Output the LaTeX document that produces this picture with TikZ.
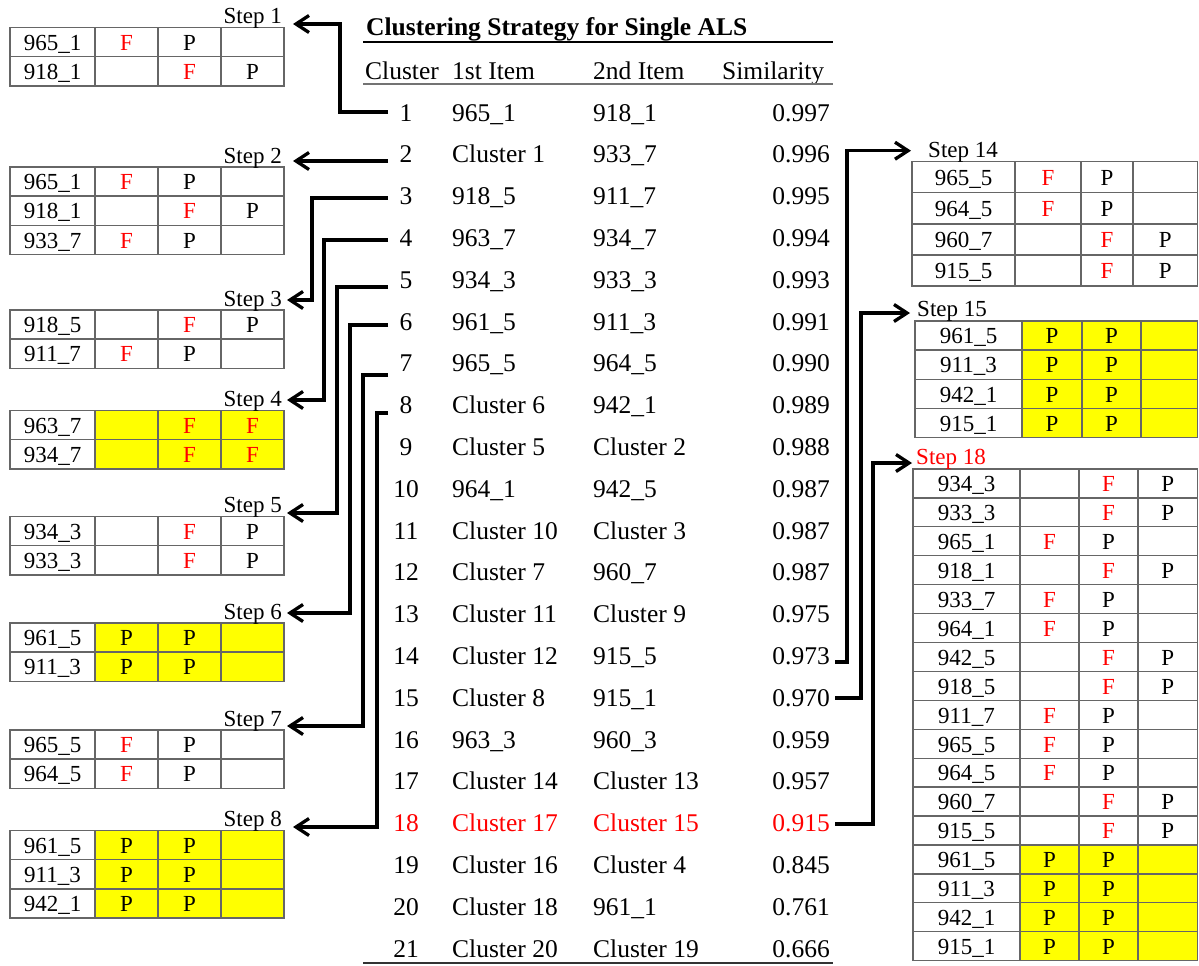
\documentclass[tikz,border=0pt]{standalone}
\usepackage{fontspec}
\setmainfont{Liberation Serif}
\usetikzlibrary{arrows.meta}
\definecolor{yel}{HTML}{FFFF00}
\definecolor{gridc}{HTML}{808080}
\newcommand\RF{\textcolor{red}{F}}
\tikzset{
  gridl/.style={draw=gridc!80!black, line width=1.3pt},
  tc/.style={font=\fontsize{23}{23}\selectfont, anchor=base, inner sep=0pt},
  steplab/.style={font=\fontsize{23}{23}\selectfont, inner sep=0pt},
  mt/.style={font=\fontsize{25.5}{26}\selectfont, inner sep=0pt},
  conn/.style={line width=3.3pt, line join=miter, -{Straight Barb[length=13pt,width=17pt]}},
}
% #1 name, #2..#6 column x, #7 top y, #8 row height, #9 rows
\newcommand\drawtable[9]{%
  \foreach \na/\ca/\cb/\cc/\yl [count=\i from 0] in {#9} {%
    \pgfmathsetmacro\ya{#7+\i*#8}%
    \pgfmathsetmacro\yb{#7+(\i+1)*#8}%
    \pgfmathsetmacro\ym{#7+(\i+0.5)*#8+8.3}%
    \ifnum\yl=1 \fill[yel] (#3,\ya) rectangle (#6,\yb);\fi
    \draw[gridl] (#2,\ya) rectangle (#3,\yb) (#3,\ya) rectangle (#4,\yb)
                 (#4,\ya) rectangle (#5,\yb) (#5,\ya) rectangle (#6,\yb);
    \node[tc] (#1-\i-a) at ({(#2+#3)/2},\ym) {\na};
    \node[tc] (#1-\i-b) at ({(#3+#4)/2},\ym) {\ca};
    \node[tc] (#1-\i-c) at ({(#4+#5)/2},\ym) {\cb};
    \node[tc] (#1-\i-d) at ({(#5+#6)/2},\ym) {\cc};
  }%
}
\begin{document}
\begin{tikzpicture}[x=1pt,y=-1pt]
\useasboundingbox (0,0) rectangle (1199,966);
\fill[white] (0,0) rectangle (1199,966);

% ---------- central table ----------
\node[mt, font=\fontsize{25.5}{26}\selectfont\bfseries, anchor=base west] (title) at (366,36) {Clustering Strategy for Single ALS};
\draw[line width=1.8pt] (363,42) -- (833,42);
\node[mt, anchor=base west] (hc) at (365,79) {Cluster};
\node[mt, anchor=base west] (h1) at (452,79) {1st Item};
\node[mt, anchor=base west] (h2) at (593,79) {2nd Item};
\node[mt, anchor=base west] (hs) at (722,79) {Similarity};
\draw[line width=1.6pt, black!55] (363,84) -- (833,84);
\draw[line width=1.6pt, black!80] (363,963) -- (833,963);

\foreach \n/\fa/\fb/\s/\col in {
  1/965\_1/918\_1/0.997/black,
  2/Cluster 1/933\_7/0.996/black,
  3/918\_5/911\_7/0.995/black,
  4/963\_7/934\_7/0.994/black,
  5/934\_3/933\_3/0.993/black,
  6/961\_5/911\_3/0.991/black,
  7/965\_5/964\_5/0.990/black,
  8/Cluster 6/942\_1/0.989/black,
  9/Cluster 5/Cluster 2/0.988/black,
  10/964\_1/942\_5/0.987/black,
  11/Cluster 10/Cluster 3/0.987/black,
  12/Cluster 7/960\_7/0.987/black,
  13/Cluster 11/Cluster 9/0.975/black,
  14/Cluster 12/915\_5/0.973/black,
  15/Cluster 8/915\_1/0.970/black,
  16/963\_3/960\_3/0.959/black,
  17/Cluster 14/Cluster 13/0.957/black,
  18/Cluster 17/Cluster 15/0.915/red,
  19/Cluster 16/Cluster 4/0.845/black,
  20/Cluster 18/961\_1/0.761/black,
  21/Cluster 20/Cluster 19/0.666/black} {
  \pgfmathsetmacro\yy{121+(\n-1)*41.8}
  \node[mt, anchor=base, text=\col] (n\n) at (406,\yy) {\n};
  \node[mt, anchor=base west, text=\col] (a\n) at (452,\yy) {\fa};
  \node[mt, anchor=base west, text=\col] (b\n) at (593,\yy) {\fb};
  \node[mt, anchor=base east, text=\col] (s\n) at (830,\yy) {\s};
}

% ---------- left tables ----------
\drawtable{t1}{10}{95}{158}{221}{284}{27.7}{29.1}{965\_1/\RF/P/{}/0, 918\_1/{}/\RF/P/0}
\drawtable{t2}{10}{95}{158}{221}{284}{167}{29.1}{965\_1/\RF/P/{}/0, 918\_1/{}/\RF/P/0, 933\_7/\RF/P/{}/0}
\drawtable{t3}{10}{95}{158}{221}{284}{310}{29.1}{918\_5/{}/\RF/P/0, 911\_7/\RF/P/{}/0}
\drawtable{t4}{10}{95}{158}{221}{284}{410.7}{29.1}{963\_7/{}/\RF/\RF/1, 934\_7/{}/\RF/\RF/1}
\drawtable{t5}{10}{95}{158}{221}{284}{516.7}{29.1}{934\_3/{}/\RF/P/0, 933\_3/{}/\RF/P/0}
\drawtable{t6}{10}{95}{158}{221}{284}{623}{29.1}{961\_5/P/P/{}/1, 911\_3/P/P/{}/1}
\drawtable{t7}{10}{95}{158}{221}{284}{730}{29.1}{965\_5/\RF/P/{}/0, 964\_5/\RF/P/{}/0}
\drawtable{t8}{10}{95}{158}{221}{284}{830.7}{29.1}{961\_5/P/P/{}/1, 911\_3/P/P/{}/1, 942\_1/P/P/{}/1}

\node[steplab, anchor=base east] (l1) at (282,23.7) {Step 1};
\node[steplab, anchor=base east] (l2) at (282,163) {Step 2};
\node[steplab, anchor=base east] (l3) at (282,306) {Step 3};
\node[steplab, anchor=base east] (l4) at (282,406.7) {Step 4};
\node[steplab, anchor=base east] (l5) at (282,512.7) {Step 5};
\node[steplab, anchor=base east] (l6) at (282,619) {Step 6};
\node[steplab, anchor=base east] (l7) at (282,726) {Step 7};
\node[steplab, anchor=base east] (l8) at (282,826.7) {Step 8};

% ---------- right tables ----------
\drawtable{t14}{912}{1015}{1081}{1133}{1197.5}{161.7}{31.1}{965\_5/\RF/P/{}/0, 964\_5/\RF/P/{}/0, 960\_7/{}/\RF/P/0, 915\_5/{}/\RF/P/0}
\drawtable{t15}{915}{1022}{1082}{1141}{1197.5}{321}{29.1}{961\_5/P/P/{}/1, 911\_3/P/P/{}/1, 942\_1/P/P/{}/1, 915\_1/P/P/{}/1}
\drawtable{t18}{913}{1020}{1079}{1138}{1197.5}{469}{28.92}{934\_3/{}/\RF/P/0, 933\_3/{}/\RF/P/0, 965\_1/\RF/P/{}/0, 918\_1/{}/\RF/P/0, 933\_7/\RF/P/{}/0, 964\_1/\RF/P/{}/0, 942\_5/{}/\RF/P/0, 918\_5/{}/\RF/P/0, 911\_7/\RF/P/{}/0, 965\_5/\RF/P/{}/0, 964\_5/\RF/P/{}/0, 960\_7/{}/\RF/P/0, 915\_5/{}/\RF/P/0, 961\_5/P/P/{}/1, 911\_3/P/P/{}/1, 942\_1/P/P/{}/1, 915\_1/P/P/{}/1}

\node[steplab, anchor=base west] (l14) at (928,157.3) {Step 14};
\node[steplab, anchor=base west] (l15) at (917,316.7) {Step 15};
\node[steplab, anchor=base west, text=red] (l18) at (916,464) {Step 18};

% ---------- connectors ----------
\coordinate (c1) at (388,112);  \coordinate (e1) at (293,24);
\coordinate (c2) at (388,161);  \coordinate (e2) at (293,161);
\coordinate (c3) at (388,198);  \coordinate (e3) at (287,300);
\coordinate (c4) at (388,240);  \coordinate (e4) at (287,400);
\coordinate (c5) at (388,287);  \coordinate (e5) at (287,513);
\coordinate (c6) at (388,325);  \coordinate (e6) at (287,613);
\coordinate (c7) at (388,375);  \coordinate (e7) at (287,726);
\coordinate (c8) at (388,413);  \coordinate (e8) at (293,827);
\coordinate (c14) at (835,662); \coordinate (e14) at (911,150.7);
\coordinate (c15) at (835,698); \coordinate (e15) at (910,313);
\coordinate (c18) at (835,824); \coordinate (e18) at (912,463);

\draw[conn] (c1) -- (340,112) |- (e1);
\draw[conn] (c2) -- (e2);
\draw[conn] (c3) -- (312,198) |- (e3);
\draw[conn] (c4) -- (324,240) |- (e4);
\draw[conn] (c5) -- (337,287) |- (e5);
\draw[conn] (c6) -- (350,325) |- (e6);
\draw[conn] (c7) -- (363,375) |- (e7);
\draw[conn] (c8) -- (377,413) |- (e8);
\draw[conn] (c14) -- (847,662) |- (e14);
\draw[conn] (c15) -- (861,698) |- (e15);
\draw[conn] (c18) -- (873,824) |- (e18);
\end{tikzpicture}
\end{document}
